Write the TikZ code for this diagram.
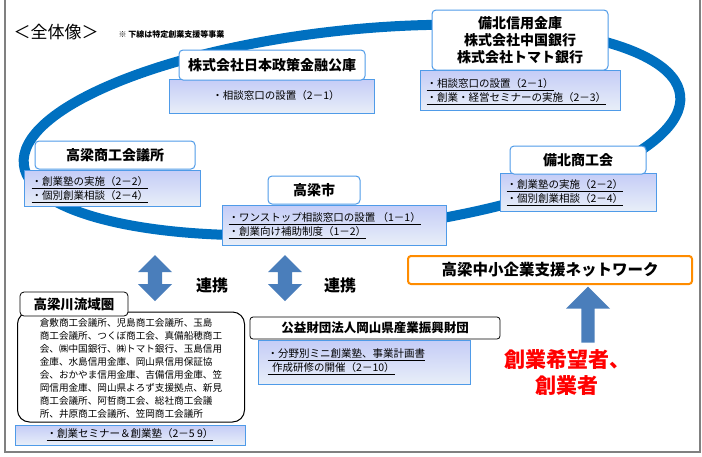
\documentclass[tikz,border=0pt]{standalone}
\usepackage{fontspec}
\setmainfont{Noto Sans CJK JP}
\usetikzlibrary{arrows.meta,shapes.arrows}
\definecolor{ring}{HTML}{0070C0}
\definecolor{bfill}{HTML}{C5D5EE}
\definecolor{bedge}{HTML}{4F9BE8}
\definecolor{arr}{HTML}{4A7EBB}
\begin{document}
\begin{tikzpicture}[x=1pt,y=-1pt,
 title/.style={draw=bedge,line width=1pt,fill=white,rounded corners=4pt,font=\bfseries\fontsize{14}{15}\selectfont,align=center},
 blue/.style={draw=bedge,line width=1pt,top color=bfill!80!blue!60,bottom color=bfill!40,align=left},
 bt/.style={font=\fontsize{10.5}{14}\selectfont,align=left},
 lbl/.style={font=\bfseries\fontsize{16}{17}\selectfont}]
\useasboundingbox (0,0) rectangle (702,456);
\draw[gray,line width=1.5pt] (5,0) -- (5,452) -- (700,452) -- (700,0);
\draw[ring,line width=10pt,rotate around={6:(352,130)}] (352,130) ellipse [x radius=330,y radius=100];
\node[anchor=west,font=\fontsize{17}{18}\selectfont] (t0) at (10,32) {＜全体像＞};
\node[anchor=west,font=\bfseries\fontsize{8}{9}\selectfont] (t1) at (115,34) {※ 下線は特定創業支援等事業};
% Japan finance
\node[blue,minimum width=205pt,minimum height=34pt] (b1) at (272,96) {};
\node[bt] at (276,96) {・相談窓口の設置（2－1）};
\node[title,minimum width=186pt,minimum height=30pt] (h1) at (272,65) {株式会社日本政策金融公庫};
% Bihoku shinkin
\node[blue,minimum width=200pt,minimum height=40pt] (b2) at (520,90) {};
\node[bt,anchor=west] at (423,92) {\underline{・相談窓口の設置（2－1）}\\\underline{・創業・経営セミナーの実施（2－3）}};
\node[title,minimum width=176pt,minimum height=60pt,font=\bfseries\fontsize{14}{17}\selectfont] (h2) at (520,40) {備北信用金庫\\株式会社中国銀行\\株式会社トマト銀行};
% Takahashi chamber
\node[blue,minimum width=176pt,minimum height=36pt] (b3) at (112,188) {};
\node[bt,anchor=west] at (28,190) {\underline{・創業塾の実施（2－2）}\\\underline{・個別創業相談（2－4）}};
\node[title,minimum width=160pt,minimum height=28pt] (h3) at (115,155) {高梁商工会議所};
% Bihoku shokokai
\node[blue,minimum width=156pt,minimum height=38pt] (b4) at (578,192) {};
\node[bt,anchor=west] at (503,193) {\underline{・創業塾の実施（2－2）}\\\underline{・個別創業相談（2－4）}};
\node[title,minimum width=136pt,minimum height=28pt] (h4) at (578,160) {備北商工会};
% Takahashi city
\node[blue,minimum width=224pt,minimum height=40pt] (b5) at (334,225) {};
\node[bt,anchor=west] at (225,226) {\underline{・ワンストップ相談窓口の設置 （1－1）}\\\underline{・創業向け補助制度（1－2）}};
\node[title,minimum width=92pt,minimum height=28pt] (h5) at (314,190) {高梁市};
% arrows
\node[draw=none,fill=arr,double arrow,shape border rotate=90,minimum height=46pt,minimum width=34pt,double arrow head extend=5pt] (a1) at (155,278) {};
\node[draw=none,fill=arr,double arrow,shape border rotate=90,minimum height=46pt,minimum width=34pt,double arrow head extend=5pt] (a2) at (285,278) {};
\node[lbl] (r1) at (212,285) {連携};
\node[lbl] (r2) at (340,285) {連携};
\node[draw=orange!90!yellow,line width=2pt,rounded corners=3pt,minimum width=284pt,minimum height=28pt,font=\bfseries\fontsize{15.5}{16}\selectfont] (net) at (550,270) {高梁中小企業支援ネットワーク};
\node[draw=none,fill=arr,single arrow,shape border rotate=90,minimum height=56pt,minimum width=44pt,single arrow head extend=8pt] (a3) at (588,318) {};
\node[text=red,font=\bfseries\fontsize{21}{26}\selectfont,align=center] (sg) at (567,372) {創業希望者、\\創業者};
% Takahashi river area
\node[blue,minimum width=230pt,minimum height=20pt] (b6) at (130,435) {};
\node[bt] at (130,435) {\underline{・創業セミナー＆創業塾（2－5~9）}};
\node[draw,line width=1pt,rounded corners=12pt,minimum width=227pt,minimum height=110pt] (g6) at (131,367) {};
\node[font=\fontsize{9.6}{13}\selectfont,align=left] at (131,368) {倉敷商工会議所、児島商工会議所、玉島\\商工会議所、つくぼ商工会、真備船穂商工\\会、㈱中国銀行、㈱トマト銀行、玉島信用\\金庫、水島信用金庫、岡山県信用保証協\\会、おかやま信用金庫、吉備信用金庫、笠\\岡信用金庫、岡山県よろず支援拠点、新見\\商工会議所、阿哲商工会、総社商工会議\\所、井原商工会議所、笠岡商工会議所};
\node[draw,line width=0.8pt,fill=white,rounded corners=4pt,minimum width=108pt,minimum height=24pt,font=\bfseries\fontsize{13.5}{14}\selectfont] (h6) at (74,304) {高梁川流域圏};
% foundation
\node[blue,minimum width=212pt,minimum height=44pt] (b7) at (364,362) {};
\node[bt,anchor=west] at (264,362) {\underline{・分野別ミニ創業塾、事業計画書}\\\underline{\ \ 作成研修の開催（2－10）}};
\node[draw,line width=0.8pt,fill=white,rounded corners=3pt,minimum width=250pt,minimum height=22pt,font=\bfseries\fontsize{12.5}{13}\selectfont] (h7) at (375,328) {公益財団法人岡山県産業振興財団};
\end{tikzpicture}
\end{document}
